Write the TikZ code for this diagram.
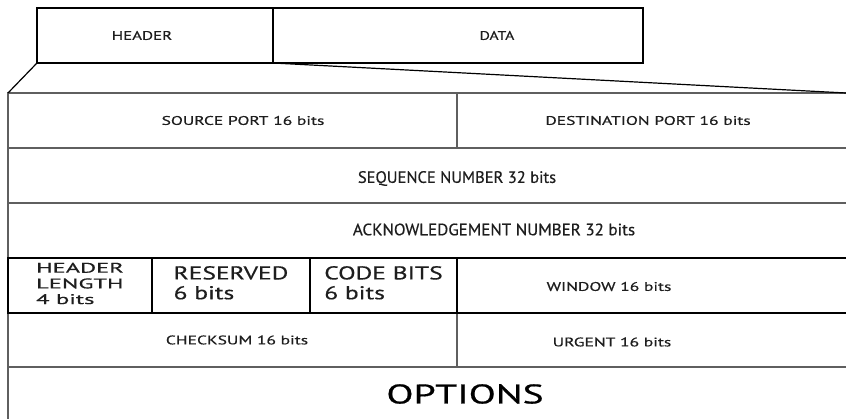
\documentclass[tikz,border=0pt]{standalone}
\usepackage{fontspec}
\setsansfont{PT Sans}[FakeBold=0.45]
\usepackage{tikz}
\usetikzlibrary{calc}
\definecolor{rulegray}{RGB}{95,95,95}
\definecolor{inkgray}{RGB}{30,30,30}
\newcommand{\wide}[2]{\scalebox{#1}[1]{#2}}
\newcommand{\fs}[1]{\fontsize{#1}{#1}\selectfont}

\begin{document}
\begin{tikzpicture}[x=1pt,y=-1pt,font=\sffamily]
		\tikzstyle{cell}=[draw=rulegray,line width=1.3pt,anchor=north west,outer sep=0pt,inner sep=0pt,minimum height=55pt];
		\tikzstyle{bitcell}=[cell,draw=black,line width=1.8pt,text=inkgray,font=\sffamily\fs{18.6}];
		\tikzstyle{segbox}=[cell,draw=black,line width=1.2pt];
		\tikzstyle{small}=[text=inkgray,font=\sffamily\fs{12.5}];
		\tikzstyle{mid}=[text=inkgray,font=\sffamily\fs{16.5}];
		\tikzstyle{fan}=[black,line width=1.2pt];
		\useasboundingbox (0,0) rectangle (846,419);
		\fill[white] (0,0) rectangle (846,419);

		% segment on top
		\node[segbox,minimum width=236pt](hdr) at (37,8){};
		\node[segbox,minimum width=370pt](data) at (hdr.north east){};
		\node[small](hdrlbl) at ([xshift=-13pt]hdr.center){\wide{1.35}{HEADER}};
		\node[small](datalbl) at ([xshift=39pt]data.center){\wide{1.25}{DATA}};

		% header rows
		\node[cell,minimum width=449pt](src) at (8,93){};
		\node[cell,minimum width=393pt](dst) at (src.north east){};
		\node[cell,minimum width=842pt](seq) at (src.south west){};
		\node[cell,minimum width=842pt](ack) at (seq.south west){};
		\node[cell,minimum width=449pt,minimum height=54pt](chk) at ([yshift=-55pt]ack.south west){};
		\node[cell,minimum width=393pt,minimum height=54pt](urg) at (chk.north east){};
		\node[cell,minimum width=842pt,minimum height=60pt](opt) at (chk.south west){};

		% fourth row, drawn last so its borders stay black
		\node[bitcell,minimum width=144pt](hlen) at (ack.south west){};
		\node[bitcell,minimum width=158pt](resv) at (hlen.north east){};
		\node[bitcell,minimum width=147pt](code) at (resv.north east){};
		\node[bitcell,minimum width=393pt](win) at (code.north east){};

		\coordinate (fanend) at (846,93);
		\draw[fan](hdr.south west)--(src.north west);
		\draw[fan](hdr.south east)--(fanend);

		% labels
		\node[small](srclbl) at ([xshift=10.5pt]src.center){\wide{1.4}{SOURCE PORT 16 bits}};
		\node[small](dstlbl) at ([xshift=-5.5pt]dst.center){\wide{1.4}{DESTINATION PORT 16 bits}};
		\node[mid](seqlbl) at ([xshift=28pt,yshift=-3pt]seq.center){SEQUENCE NUMBER 32 bits};
		\node[mid](acklbl) at ([xshift=65pt,yshift=1pt]ack.center){\wide{1.03}{ACKNOWLEDGEMENT NUMBER 32 bits}};
		\node[text=inkgray,font=\sffamily\fs{14}](hlenlbl) at (hlen.center){\wide{1.75}{\begin{tabular}{@{}l@{}}HEADER\\[1.5pt]LENGTH\\[1.5pt]4 bits\end{tabular}}};
		\node[text=inkgray,font=\sffamily\fs{18.6}](resvlbl) at (resv.center){\wide{1.37}{\begin{tabular}{@{}l@{}}RESERVED\\[1pt]6 bits\end{tabular}}};
		\node[text=inkgray,font=\sffamily\fs{18.6}](codelbl) at (code.center){\wide{1.37}{\begin{tabular}{@{}l@{}}CODE BITS\\[1pt]6 bits\end{tabular}}};
		\node[small](winlbl) at ([xshift=-44.5pt,yshift=-1pt]win.center){\wide{1.4}{WINDOW 16 bits}};
		\node[small](chklbl) at ([xshift=4.5pt]chk.center){\wide{1.4}{CHECKSUM 16 bits}};
		\node[small](urglbl) at ([xshift=-41.5pt,yshift=-2pt]urg.center){\wide{1.4}{URGENT 16 bits}};
		\node[text=black,font=\sffamily\fs{27}](optlbl) at ([xshift=36pt,yshift=3pt]opt.center){\wide{1.47}{OPTIONS}};
	\end{tikzpicture}
\end{document}
